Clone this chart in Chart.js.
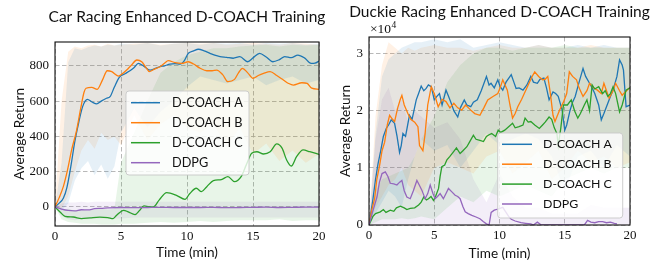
<!DOCTYPE html>
<html><head><meta charset="utf-8">
<script src="https://cdn.jsdelivr.net/npm/chart.js@4.4.1/dist/chart.umd.min.js"></script>
<style>
html,body{margin:0;padding:0;background:#fff;width:671px;height:264px;overflow:hidden}
#w1{position:absolute;left:0;top:0;width:335px;height:264px}
#w2{position:absolute;left:335px;top:0;width:336px;height:264px}
</style></head><body>
<div id="w1"><canvas id="c1"></canvas></div>
<div id="w2"><canvas id="c2"></canvas></div>
<script>
// ---------- Car Racing (left) ----------
const carTitle = "Car Racing Enhanced D-COACH Training";
const duckTitle = "Duckie Racing Enhanced D-COACH Training";
const seriesLabels = ["D-COACH A", "D-COACH B", "D-COACH C", "DDPG"];
const xTickValues = [0, 5, 10, 15, 20];
const carYTicks = [0, 200, 400, 600, 800];
const duckYTicks = [0, 1, 2, 3];

const carTimeA = [0,0.3,0.63,0.9,1.2,1.5,1.8,2.1,2.45,2.8,3.16,3.5,3.9,4.17,4.5,4.87,5.3,5.68,6.0,6.31,6.7,7.2,7.6,7.95,8.3,8.7,9.1,9.47,9.8,10.1,10.5,10.86,11.3,11.74,12.1,12.5,13.0,13.5,14.0,14.6,15.0,15.5,16.0,16.5,17.0,17.4,17.9,18.4,18.9,19.4,19.7,20];
const carA = [0,20,49,110,230,370,480,570,610,595,584,600,616,625,680,735,755,772,790,814,800,776,785,795,800,810,812,810,830,871,885,894,885,871,860,852,848,843,852,823,845,871,850,823,835,852,846,861,845,814,815,827];

const carTimeB = [0,0.3,0.63,0.95,1.26,1.64,1.95,2.2,2.35,2.78,3.2,3.6,3.96,4.3,4.8,5.1,5.43,5.8,6.2,6.57,6.9,7.15,7.5,7.95,8.3,8.58,9.1,9.6,10.1,10.5,11.0,11.5,11.9,12.25,12.7,13.1,13.6,13.9,14.2,14.6,15.0,15.4,15.8,16.3,16.8,17.3,17.7,18.05,18.7,19.1,19.45,20];
const carB = [0,50,115,210,323,436,560,650,673,678,667,720,772,767,742,755,776,805,833,823,790,767,780,795,815,829,818,814,823,810,786,772,772,776,750,710,723,760,786,760,729,745,757,767,745,720,700,691,704,700,673,667];

const carTimeC = [0,0.4,0.76,1.39,2.0,2.65,3.4,4.0,4.4,4.67,5.2,5.55,6.06,6.4,6.74,7.1,7.45,7.9,8.46,9.2,9.85,10.2,10.7,11.1,11.5,12.0,12.6,13.1,13.6,14.1,14.5,14.9,15.3,15.8,16.3,16.8,17.2,17.55,17.9,18.3,18.8,19.3,20];
const carC = [0,-30,-53,-57,-66,-62,-58,-60,-66,-47,-19,-28,-43,-20,6,2,0,40,81,66,43,75,106,87,115,149,155,172,143,172,240,304,313,300,313,357,333,266,232,285,323,313,298];

const carTimeD = [0,0.5,1.0,1.5,2.0,2.5,3.0,3.5,4.0,5,6,7,8,9,10,11,12,13,14,15,16,17,18,19,20];
const carD = [0,-12,-20,-22,-16,-17,-10,-8,-5,-3,-4,-3,-2,-3,-3,-3,-2,-4,-3,-2,-1,-3,-2,-1,-1];

const carBandT = [0,0.5,1,1.5,2,2.5,3,3.5,4,4.5,5,6,7,8,9,10,11,12,13,14,15,16,17,18,19,20];
const carAHi = [0,250,820,900,890,905,915,910,920,915,925,920,930,915,925,930,920,930,925,930,920,930,925,930,920,925];
const carALo = [0,-20,20,150,220,260,180,240,160,230,420,560,450,540,600,680,740,720,700,720,740,690,720,740,700,720];
const carBHi = [0,600,880,910,900,915,920,910,925,915,920,925,930,920,925,930,925,930,920,925,930,925,920,930,925,920];
const carBLo = [0,-10,60,200,320,380,330,420,380,400,350,520,380,470,520,450,420,470,350,450,300,360,260,320,250,300];
const carCHi = [0,-15,-10,-20,-15,-20,-15,-10,-15,-10,250,420,600,760,820,860,880,900,900,910,915,920,910,920,915,920];
const carCLo = [0,-70,-85,-90,-95,-95,-95,-100,-100,-100,-95,-95,-90,-85,-90,-85,-80,-85,-80,-75,-75,-75,-70,-80,-75,-75];
const carDHi = [0,20,25,25,30,25,30,30,30,30,30,30,30,30,30,30,30,30,30,30,30,30,30,30,30,30];
const carDLo = [0,-50,-70,-75,-70,-70,-65,-65,-65,-65,-65,-60,-60,-60,-60,-60,-60,-60,-60,-60,-60,-60,-60,-60,-60,-60];

// ---------- Duckie Racing (right), values in units of 10^4 ----------
const duckTimeA = [0,0.3,0.5,0.69,0.9,1.1,1.32,1.5,1.7,1.96,2.15,2.34,2.47,2.6,2.8,3.1,3.3,3.62,3.8,4.0,4.2,4.38,4.55,4.77,5.0,5.2,5.4,5.6,5.9,6.1,6.3,6.5,6.8,7.0,7.3,7.5,7.8,8.0,8.3,8.6,9.0,9.2,9.35,9.6,9.87,10.05,10.25,10.5,10.9,11.1,11.27,11.5,11.8,12.1,12.4,12.6,12.9,13.1,13.4,13.6,13.8,14.1,14.3,14.5,14.8,15.0,15.15,15.4,15.6,15.8,16.1,16.4,16.6,16.9,17.1,17.3,17.6,17.8,18.0,18.3,18.5,18.7,19.0,19.2,19.4,19.5,19.7,20];
const duckA = [0,0.45,0.8,1.07,1.3,1.55,1.69,1.75,1.84,1.78,1.55,1.27,1.39,1.6,1.55,1.92,1.85,2.19,2.3,2.43,2.35,2.39,2.45,2.42,2.19,2.25,2.3,2.1,2.36,2.25,2.13,2.0,1.89,2.05,2.19,2.1,2.07,2.15,2.19,2.35,2.6,2.45,2.48,2.4,2.54,2.42,2.36,2.5,2.63,2.5,2.39,2.4,2.36,2.45,2.6,2.5,2.48,2.55,2.57,2.4,2.19,2.33,2.3,2.25,2.01,1.66,1.75,2.0,2.15,2.25,2.5,2.74,2.6,2.48,2.4,2.3,2.1,1.84,1.95,2.13,2.25,2.36,2.6,2.89,2.8,2.71,2.07,2.1];

const duckTimeB = [0,0.2,0.43,0.6,0.81,1.0,1.2,1.4,1.58,1.8,1.96,2.2,2.4,2.52,2.7,2.98,3.2,3.5,3.75,3.87,4.13,4.3,4.5,4.77,5.0,5.3,5.6,5.9,6.2,6.5,6.8,7.1,7.4,7.8,8.1,8.5,8.8,9.1,9.5,9.87,10.05,10.25,10.6,10.8,11.0,11.2,11.4,11.7,11.9,12.2,12.5,12.7,13.0,13.3,13.5,13.7,13.9,14.1,14.25,14.6,14.9,15.15,15.35,15.6,15.9,16.1,16.4,16.7,16.9,17.2,17.5,17.8,18.0,18.2,18.4,18.7,18.9,19.2,19.4,19.6,19.9,20];
const duckB = [0,0.25,0.46,0.8,1.04,1.3,1.45,1.75,1.92,1.85,1.81,2.05,2.2,2.27,2.1,1.95,1.85,1.8,1.72,1.39,1.3,1.6,2.1,2.42,2.3,2.07,2.2,2.16,2.05,2.13,2.05,2.01,2.1,2.01,1.95,1.92,2.05,2.19,2.25,2.3,2.4,2.54,2.36,2.1,1.87,1.95,2.07,2.2,2.3,2.45,2.6,2.68,2.6,2.54,2.55,2.6,2.3,1.92,1.81,2.01,2.15,2.3,2.68,2.6,2.54,2.4,2.25,2.35,2.48,2.4,2.36,2.3,2.48,2.35,2.22,2.35,2.48,2.35,2.27,2.32,2.39,2.4];

const duckTimeC = [0,0.3,0.5,0.87,1.1,1.3,1.63,1.9,2.1,2.4,2.7,2.9,3.16,3.5,3.8,4.0,4.2,4.4,4.56,4.75,4.94,5.1,5.33,5.45,5.58,5.8,5.97,6.2,6.47,6.7,6.98,7.2,7.5,7.7,8.0,8.2,8.5,8.77,9.0,9.2,9.4,9.7,9.9,10.1,10.4,10.7,11.0,11.2,11.5,11.8,11.96,12.2,12.4,12.7,13.05,13.3,13.5,13.8,14.0,14.2,14.4,14.5,14.7,14.9,15.2,15.5,15.75,16.0,16.2,16.5,16.7,16.9,17.1,17.3,17.6,17.9,18.1,18.3,18.5,18.7,18.9,19.2,19.4,19.7,20];
const duckC = [0,0.15,0.2,0.23,0.27,0.22,0.26,0.24,0.3,0.33,0.3,0.27,0.29,0.3,0.35,0.4,0.49,0.44,0.46,0.5,0.43,0.5,0.64,0.85,1.02,1.05,1.14,1.2,1.28,1.35,1.25,1.3,1.37,1.45,1.57,1.5,1.48,1.46,1.55,1.58,1.6,1.55,1.66,1.62,1.66,1.72,1.78,1.7,1.72,1.75,1.87,1.8,1.81,1.75,1.69,1.75,1.8,1.89,1.85,1.7,1.6,1.39,1.7,2.1,2.1,2.19,2.0,1.87,1.95,2.1,2.19,2.0,2.45,2.38,2.42,2.3,2.35,2.25,2.3,2.42,2.3,1.98,2.1,2.36,2.4];

const duckTimeD = [0,0.3,0.61,0.8,1.0,1.25,1.45,1.63,1.9,2.14,2.35,2.52,2.7,2.9,3.16,3.4,3.67,3.85,4.05,4.3,4.5,4.69,4.9,5.07,5.25,5.45,5.7,5.9,6.09,6.35,6.6,6.8,6.98,7.2,7.37,7.6,7.88,8.2,8.5,8.75,9.0,9.2,9.36,9.6,9.9,10.25,10.5,10.7,10.9,11.2,11.65,12.0,12.4,12.6,12.9,13.2,13.6,14.0,14.5,15.0,15.5,16.0,16.5,16.75,17.0,17.3,17.6,17.9,18.2,18.5,18.8,19.0];
const duckD = [0,0.25,0.49,0.75,0.9,0.93,0.85,0.73,0.72,0.7,0.75,0.78,0.6,0.49,0.46,0.6,0.78,0.7,0.61,0.46,0.55,0.7,0.55,0.46,0.5,0.55,0.46,0.55,0.64,0.58,0.52,0.5,0.46,0.32,0.23,0.2,0.17,0.14,0.11,0.06,0.02,0.0,0.22,0.26,0.28,0.31,0.22,0.15,0.1,0.07,0.04,0.03,0.02,0.0,0.05,0.0,0.0,0.0,0.0,0.0,0.0,0.0,0.0,0.08,0.05,0.04,0.06,0.06,0.04,0.05,0.03,0.02];

const duckBandT = [0,0.5,1,1.5,2,2.5,3,3.5,4,5,6,7,8,9,10,11,12,13,14,15,16,17,18,19,20];
const duckAHi = [0,1.6,2.6,2.9,3.0,3.1,3.15,3.2,3.2,3.25,3.2,3.25,3.1,3.15,3.2,3.15,3.1,3.15,3.1,3.1,3.15,3.1,3.15,3.1,3.1];
const duckALo = [0,0.2,0.4,0.6,0.5,0.3,0.8,1.2,1.5,1.3,1.4,1.0,1.3,1.6,1.4,1.5,1.6,1.5,1.2,0.6,1.2,1.3,1.0,1.4,1.2];
const duckBHi = [0,1.9,2.8,3.2,3.1,3.0,3.1,3.05,3.1,3.15,3.1,3.1,3.05,3.1,3.15,3.1,3.1,3.15,3.1,3.1,3.1,3.15,3.1,3.1,3.1];
const duckBLo = [0,0.3,0.5,0.7,0.8,1.0,0.7,0.6,0.5,1.0,1.1,1.0,0.9,1.2,1.3,0.9,1.1,1.3,0.8,1.0,1.3,1.1,1.2,1.0,1.1];
const duckCHi = [0,0.6,0.8,0.85,0.9,0.95,1.0,1.2,1.5,1.9,2.5,2.8,3.0,3.1,3.1,3.05,3.1,3.1,3.1,3.15,3.1,3.1,3.1,3.1,3.1];
const duckCLo = [0,0.05,0.1,0.1,0.1,0.12,0.1,0.12,0.15,0.1,0.3,0.5,0.4,0.6,0.5,0.6,0.7,0.6,0.5,0.8,0.9,1.0,0.9,1.0,1.0];
const duckDHi = [0,1.5,2.2,2.4,2.0,2.2,1.8,2.0,1.9,1.7,1.8,1.5,0.8,0.4,0.9,0.5,0.3,0.3,0.2,0.2,0.2,0.35,0.3,0.3,0.3];
const duckDLo = [0,0,0,0,0,0,0,0,0,0,0,0,0,0,0,0,0,0,0,0,0,0,0,0,0];

// ---------- helpers ----------
const COL = ['#1f77b4', '#ff7f0e', '#2ca02c', '#9467bd'];
const FILL = ['rgba(31,119,180,0.11)', 'rgba(255,127,14,0.11)', 'rgba(44,160,44,0.11)', 'rgba(148,103,189,0.11)'];
const SANS = 'Lato';
const SERIF = 'Liberation Serif';

function pts(xs, ys) { return xs.map((x, i) => ({ x: x, y: ys[i] })); }
function bandSets(t, lo, hi, fill) {
  return [
    { data: pts(t, hi), borderWidth: 0, pointRadius: 0, fill: false, order: 10, isBand: true, borderColor: 'rgba(0,0,0,0)' },
    { data: pts(t, lo), borderWidth: 0, pointRadius: 0, fill: '-1', backgroundColor: fill, order: 10, isBand: true, borderColor: 'rgba(0,0,0,0)' }
  ];
}
function lineSet(label, t, v, color, order, smooth) {
  return { label: label, data: pts(t, v), borderColor: color, backgroundColor: color, borderWidth: 1.3,
    pointRadius: 0, fill: false, order: order, tension: 0,
    cubicInterpolationMode: smooth ? 'monotone' : 'default' };
}
function fitSize(ctx, text, family, target) {
  ctx.font = '20px "' + family + '"';
  return 20 * target / ctx.measureText(text).width;
}

const deco = {
  id: 'deco',
  afterDraw(chart, args, o) {
    const ctx = chart.ctx, a = chart.chartArea;
    ctx.save();
    // spines
    ctx.strokeStyle = '#111'; ctx.lineWidth = 1.1; ctx.setLineDash([]);
    ctx.strokeRect(a.left, a.top, a.right - a.left, a.bottom - a.top);
    // legend
    const L = o.legend;
    ctx.beginPath();
    if (ctx.roundRect) ctx.roundRect(L.x, L.y, L.w, L.h, 3); else ctx.rect(L.x, L.y, L.w, L.h);
    ctx.fillStyle = 'rgba(255,255,255,0.8)'; ctx.fill();
    ctx.strokeStyle = 'rgba(200,200,200,0.9)'; ctx.lineWidth = 1; ctx.stroke();
    const lsz = fitSize(ctx, seriesLabels[0], SANS, L.tw);
    ctx.font = lsz.toFixed(2) + 'px "' + SANS + '"';
    ctx.textBaseline = 'middle'; ctx.textAlign = 'left';
    const lines = chart.data.datasets.filter(d => !d.isBand);
    lines.forEach((d, i) => {
      const y = L.row0 + i * L.dy;
      ctx.strokeStyle = d.borderColor; ctx.lineWidth = 1.5;
      ctx.beginPath(); ctx.moveTo(L.lx0, y); ctx.lineTo(L.lx1, y); ctx.stroke();
      ctx.fillStyle = '#111'; ctx.fillText(d.label, L.tx, y);
    });
    // title
    const tsz = fitSize(ctx, carTitle, SANS, 277);
    ctx.font = tsz.toFixed(2) + 'px "' + SANS + '"';
    ctx.textAlign = 'center'; ctx.textBaseline = 'alphabetic'; ctx.fillStyle = '#111';
    ctx.fillText(o.title, (a.left + a.right) / 2, o.titleY);
    // axis titles
    const asz = fitSize(ctx, 'Time (min)', SANS, 62);
    ctx.font = asz.toFixed(2) + 'px "' + SANS + '"';
    ctx.textBaseline = 'middle';
    ctx.fillText('Time (min)', (a.left + a.right) / 2, o.xTitleY);
    ctx.save();
    ctx.translate(o.yTitleX, (a.top + a.bottom) / 2);
    ctx.rotate(-Math.PI / 2);
    ctx.fillText('Average Return', 0, 0);
    ctx.restore();
    // offset text
    if (o.offset) {
      ctx.textAlign = 'left'; ctx.textBaseline = 'alphabetic';
      ctx.font = '13.5px "' + SERIF + '"';
      ctx.fillText('\u00d710', a.left + 1, o.offset.y);
      const w = ctx.measureText('\u00d710').width;
      ctx.font = '9.5px "' + SERIF + '"';
      ctx.fillText('4', a.left + 1 + w + 0.5, o.offset.y - 5.5);
    }
    ctx.restore();
  }
};

function scalesFor(yMin, yMax, yTicks, yWidth, xHeight, fmt) {
  const grid = { color: '#b0b0b0', lineWidth: 0.9, drawTicks: false };
  const border = { display: false, dash: [4.5, 2.5] };
  const tickFont = { family: SERIF, size: 13 };
  return {
    x: { type: 'linear', min: 0, max: 20,
      afterFit(s) { s.height = xHeight; },
      afterBuildTicks(s) { s.ticks = xTickValues.map(v => ({ value: v })); },
      ticks: { padding: 3, color: '#111', font: tickFont, maxRotation: 0, autoSkip: false },
      grid: grid, border: border },
    y: { type: 'linear', min: yMin, max: yMax,
      afterFit(s) { s.width = yWidth; },
      afterBuildTicks(s) { s.ticks = yTicks.map(v => ({ value: v })); },
      ticks: { padding: 6, color: '#111', font: tickFont, autoSkip: false, callback: fmt },
      grid: grid, border: border }
  };
}

function build() {
  Chart.register(deco);
  const carData = [].concat(
    bandSets(carBandT, carALo, carAHi, FILL[0]),
    bandSets(carBandT, carBLo, carBHi, FILL[1]),
    bandSets(carBandT, carCLo, carCHi, FILL[2]),
    bandSets(carBandT, carDLo, carDHi, FILL[3]),
    [lineSet(seriesLabels[0], carTimeA, carA, COL[0], 4, true),
     lineSet(seriesLabels[1], carTimeB, carB, COL[1], 3, true),
     lineSet(seriesLabels[2], carTimeC, carC, COL[2], 2, true),
     lineSet(seriesLabels[3], carTimeD, carD, COL[3], 1, true)]
  );
  new Chart(document.getElementById('c1'), {
    type: 'line',
    data: { datasets: carData },
    options: {
      responsive: true, maintainAspectRatio: false, animation: false, devicePixelRatio: 1,
      layout: { padding: { left: 0, right: 16, top: 42, bottom: 0 } },
      plugins: { legend: { display: false }, tooltip: { enabled: false },
        deco: { title: carTitle, titleY: 22, xTitleY: 253, yTitleX: 20,
          legend: { x: 126, y: 91, w: 123, h: 84, row0: 102.7, dy: 20, lx0: 131, lx1: 160, tx: 172, tw: 71 } } },
      scales: scalesFor(-108, 935, carYTicks, 55, 38, v => String(v))
    }
  });
  const duckData = [].concat(
    bandSets(duckBandT, duckALo, duckAHi, FILL[0]),
    bandSets(duckBandT, duckBLo, duckBHi, FILL[1]),
    bandSets(duckBandT, duckCLo, duckCHi, FILL[2]),
    bandSets(duckBandT, duckDLo, duckDHi, FILL[3]),
    [lineSet(seriesLabels[0], duckTimeA, duckA, COL[0], 4, false),
     lineSet(seriesLabels[1], duckTimeB, duckB, COL[1], 3, false),
     lineSet(seriesLabels[2], duckTimeC, duckC, COL[2], 2, false),
     lineSet(seriesLabels[3], duckTimeD, duckD, COL[3], 1, false)]
  );
  new Chart(document.getElementById('c2'), {
    type: 'line',
    data: { datasets: duckData },
    options: {
      responsive: true, maintainAspectRatio: false, animation: false, devicePixelRatio: 1,
      layout: { padding: { left: 0, right: 41, top: 37, bottom: 0 } },
      plugins: { legend: { display: false }, tooltip: { enabled: false },
        deco: { title: duckTitle, titleY: 17, xTitleY: 253.5, yTitleX: 11, offset: { y: 33 },
          legend: { x: 162.7, y: 133, w: 125, h: 85, row0: 144.3, dy: 19.9, lx0: 167, lx1: 197, tx: 208, tw: 69 } } },
      scales: scalesFor(0, 3.29, duckYTicks, 34, 39, v => String(v))
    }
  });
}
const fl = document.fonts && document.fonts.load ?
  Promise.all([document.fonts.load('16px "Lato"'), document.fonts.load('13px "Liberation Serif"')]) : Promise.resolve();
fl.then(build, build);
</script>
</body></html>
